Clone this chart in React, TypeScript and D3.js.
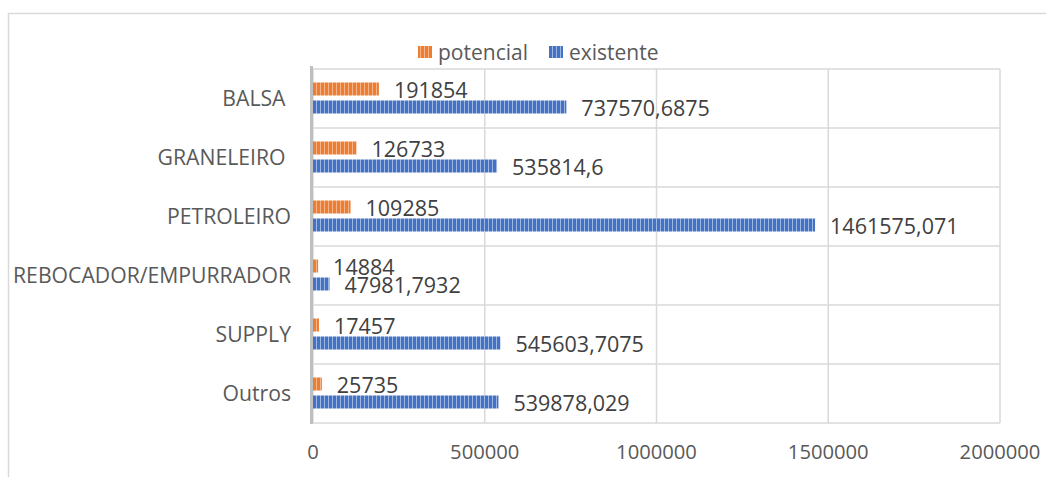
import React from "react";
import * as d3 from "d3";

const categories = ["BALSA ", "GRANELEIRO ", "PETROLEIRO", "REBOCADOR/EMPURRADOR", "SUPPLY", "Outros"];
const potencial = [191854, 126733, 109285, 14884, 17457, 25735];
const existente = [737570.6875, 535814.6, 1461575.071, 47981.7932, 545603.7075, 539878.029];
const xTicks = [0, 500000, 1000000, 1500000, 2000000];
const seriesNames = ["potencial", "existente"];
const seriesColors = ["#ED7D31", "#4472C4"];
const stripeColors = ["#F6B48A", "#9DB6E2"];

const W = 1046;
const H = 477;
const margin = { left: 313, right: 46, top: 69, bottom: 54 };
const FONT = "'Open Sans', sans-serif";

export default function App() {
  const x = d3.scaleLinear().domain([0, 2000000]).range([margin.left, W - margin.right]);
  const y = d3.scaleBand<string>().domain(categories).range([margin.top, H - margin.bottom]).paddingInner(0).paddingOuter(0);
  const bw = y.bandwidth();
  const barH = 13;
  const gap = 5;
  const fmt = (v: number) => String(v).replace(".", ",");
  const series = [potencial, existente];

  return (
    <svg width={W} height={H} style={{ position: "fixed", left: 0, top: 0, background: "#fff" }}>
      <defs>
        {seriesColors.map((c, i) => (
          <pattern key={i} id={`pat${i}`} patternUnits="userSpaceOnUse" width={4} height={4} x={margin.left}>
            <rect width={4} height={4} fill={c} />
            <rect x={3} width={1} height={4} fill={stripeColors[i]} />
          </pattern>
        ))}
      </defs>
      <rect x={8.5} y={13.5} width={W + 10} height={H + 10} fill="#fff" stroke="#d9d9d9" strokeWidth={1.5} />
      {/* gridlines */}
      {xTicks.map((t) => (
        <line key={t} x1={x(t)} x2={x(t)} y1={margin.top} y2={H - margin.bottom} stroke="#d9d9d9" strokeWidth={1.5} />
      ))}
      {categories.map((c, i) => (
        <line key={"h" + i} x1={margin.left} x2={W - margin.right} y1={y(c)!} y2={y(c)!} stroke="#d9d9d9" strokeWidth={1.5} />
      ))}
      <line x1={margin.left} x2={W - margin.right} y1={H - margin.bottom} y2={H - margin.bottom} stroke="#d9d9d9" strokeWidth={1.5} />
      {/* bars */}
      {categories.map((c, i) => {
        const groupTop = y(c)! + (bw - (2 * barH + gap)) / 2 - 0.5;
        return (
          <g key={"b" + i}>
            {series.map((s, k) => {
              const by = groupTop + k * (barH + gap);
              const bx = x(0);
              const bwid = x(s[i]) - x(0);
              return (
                <g key={k}>
                  <rect x={bx} y={by} width={bwid} height={barH} fill={`url(#pat${k})`} />
                  <text x={x(s[i]) + 15} y={by + barH / 2 + 1} dy="0.36em" fontFamily={FONT} fontSize={21.5} fill="#404040">
                    {fmt(s[i])}
                  </text>
                </g>
              );
            })}
          </g>
        );
      })}
      {/* left axis */}
      <line x1={margin.left - 1.5} x2={margin.left - 1.5} y1={margin.top - 3} y2={H - margin.bottom + 1} stroke="#bfbfbf" strokeWidth={3} />
      {/* category labels */}
      {categories.map((c, i) => (
        <text key={"c" + i} x={291} y={y(c)! + bw / 2} dy="0.36em" textAnchor="end" fontFamily={FONT} fontSize={21.2} fill="#595959" style={{ whiteSpace: "pre" }}>
          {c}
        </text>
      ))}
      {/* x tick labels */}
      {xTicks.map((t) => (
        <text key={"t" + t} x={x(t)} y={452} dy="0.36em" textAnchor="middle" fontFamily={FONT} fontSize={20.2} fill="#595959">
          {t}
        </text>
      ))}
      {/* legend */}
      {seriesNames.map((n, k) => {
        const lx = [418, 549][k];
        return (
          <g key={"l" + k}>
            <rect x={lx} y={46} width={14} height={12} fill={`url(#pat${k})`} />
            <text x={lx + 20} y={52} dy="0.36em" fontFamily={FONT} fontSize={21} fill="#595959">
              {n}
            </text>
          </g>
        );
      })}
    </svg>
  );
}
